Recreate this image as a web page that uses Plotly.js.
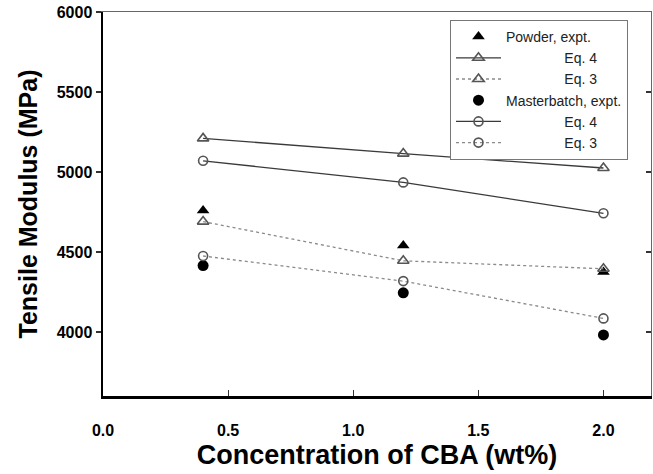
<!DOCTYPE html>
<html>
<head>
<meta charset="utf-8">
<script src="https://cdn.plot.ly/plotly-3.0.1.min.js"></script>
<style>html,body{margin:0;padding:0;background:#fff;}#chart{width:653px;height:474px;}</style>
</head>
<body>
<div id="chart"></div>
<script>
// Concentration of CBA (wt%)
const concentration = [0.4, 1.2, 2.0];

// Powder
const powderExpt = [4760, 4540, 4375];
const powderEq4  = [5210, 5115, 5025];
const powderEq3  = [4690, 4445, 4395];

// Masterbatch
const masterExpt = [4415, 4245, 3982];
const masterEq4  = [5070, 4935, 4742];
const masterEq3  = [4475, 4318, 4085];

const pad = '\u00A0'.repeat(15);
const legendNames = [
  'Powder, expt.',
  pad + 'Eq. 4',
  pad + 'Eq. 3',
  'Masterbatch, expt.',
  pad + 'Eq. 4',
  pad + 'Eq. 3'
];

const solidLine = {color: '#3a3a3a', width: 1.3, dash: 'solid'};
const dotLine = {color: '#8a8a8a', width: 1.3, dash: 'dot'};
const openTri = {symbol: 'triangle-up-open', size: 10, color: '#555', line: {width: 1.6, color: '#555'}};
const openCirc = {symbol: 'circle-open', size: 9, color: '#555', line: {width: 1.6, color: '#555'}};

const traces = [
  {x: concentration, y: powderExpt, name: legendNames[0], mode: 'markers',
   marker: {symbol: 'triangle-up', size: 11, color: '#000'}},
  {x: concentration, y: powderEq4, name: legendNames[1], mode: 'lines+markers',
   line: solidLine, marker: openTri},
  {x: concentration, y: powderEq3, name: legendNames[2], mode: 'lines+markers',
   line: dotLine, marker: openTri},
  {x: concentration, y: masterExpt, name: legendNames[3], mode: 'markers',
   marker: {symbol: 'circle', size: 11, color: '#000'}},
  {x: concentration, y: masterEq4, name: legendNames[4], mode: 'lines+markers',
   line: solidLine, marker: openCirc},
  {x: concentration, y: masterEq3, name: legendNames[5], mode: 'lines+markers',
   line: dotLine, marker: openCirc}
];

const layout = {
  width: 653, height: 474,
  margin: {l: 103, r: 2, t: 12, b: 78},
  paper_bgcolor: '#fff', plot_bgcolor: '#fff',
  font: {family: 'Liberation Sans, Arial, sans-serif', color: '#000'},
  showlegend: true,
  legend: {
    x: (450 - 103) / 548, y: 1 - (20 - 12) / 384, xanchor: 'left', yanchor: 'top',
    bordercolor: '#777', borderwidth: 1, bgcolor: '#fff',
    font: {size: 14, color: '#222'}, itemwidth: 45, tracegroupgap: 0
  },
  xaxis: {
    range: [0, 2.19], dtick: 0.5, tick0: 0, tickformat: '.1f',
    showgrid: false, zeroline: false,
    showline: true, linecolor: '#000', linewidth: 2.5,
    ticks: 'inside', ticklen: 6, tickwidth: 1.2, tickcolor: '#333',
    tickfont: {size: 16, family: 'Liberation Sans, Arial, sans-serif', weight: 'bold'},
    ticklabelstandoff: 18,
    title: {text: 'Concentration of CBA (wt%)', standoff: 8,
            font: {size: 27, family: 'Liberation Sans, Arial, sans-serif', weight: 'bold'}}
  },
  yaxis: {
    range: [3600, 6000], dtick: 500, tick0: 4000,
    showgrid: false, zeroline: false,
    showline: true, linecolor: '#000', linewidth: 2.5,
    ticks: 'outside', ticklen: 5, tickwidth: 1.2, tickcolor: '#333',
    tickfont: {size: 16, family: 'Liberation Sans, Arial, sans-serif', weight: 'bold'},
    title: {text: 'Tensile Modulus (MPa)', standoff: 12,
            font: {size: 25, family: 'Liberation Sans, Arial, sans-serif', weight: 'bold'}}
  },
  xaxis2: {
    overlaying: 'x', side: 'top', range: [0, 2.19], showgrid: false, zeroline: false,
    showline: true, linecolor: '#666', linewidth: 1, ticks: '', showticklabels: false
  },
  yaxis2: {
    overlaying: 'y', side: 'right', range: [3600, 6000], dtick: 500, tick0: 4000,
    showgrid: false, zeroline: false,
    showline: true, linecolor: '#666', linewidth: 1,
    ticks: 'inside', ticklen: 5, tickwidth: 1.2, tickcolor: '#333', showticklabels: false
  }
};

// invisible helper trace so the mirror axes are drawn
traces.push({x: [0], y: [3600], xaxis: 'x2', yaxis: 'y2', mode: 'markers',
  marker: {opacity: 0}, showlegend: false, hoverinfo: 'skip'});

Plotly.newPlot('chart', traces, layout, {displayModeBar: false, staticPlot: true});
</script>
</body>
</html>
